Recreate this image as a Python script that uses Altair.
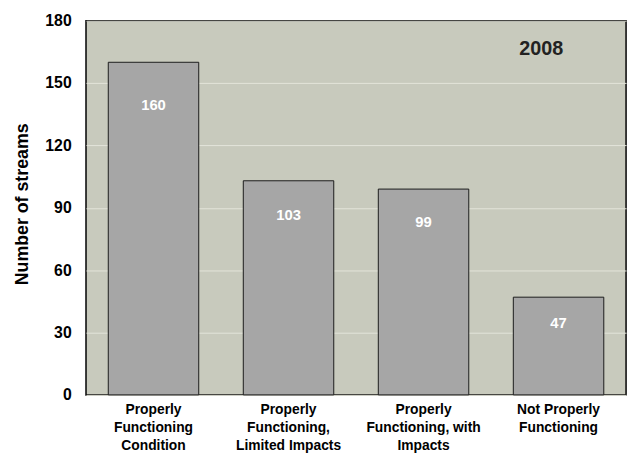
import altair as alt
import pandas as pd

categories = [
    "Properly|Functioning|Condition",
    "Properly|Functioning,|Limited Impacts",
    "Properly|Functioning, with|Impacts",
    "Not Properly|Functioning",
]
values = [160, 103, 99, 47]
y_ticks = [0, 30, 60, 90, 120, 150, 180]
year_label = "2008"

df = pd.DataFrame({"category": categories, "value": values})

FONT = "Liberation Sans"
W, H = 547, 379

x = alt.X(
    "category:N",
    sort=categories,
    scale=alt.Scale(paddingInner=0.33, paddingOuter=0.165),
    axis=alt.Axis(
        title=None,
        labelAngle=0,
        labelExpr="split(datum.label, '|')",
        labelFont=FONT,
        labelFontSize=14,
        labelFontWeight="bold",
        labelColor="#000000",
        labelLineHeight=18,
        labelPadding=8,
        labelLimit=200,
        ticks=False,
        domain=False,
    ),
)

y_scale = alt.Scale(domain=[0, 180], nice=False)

bars = alt.Chart(df).mark_bar(
    color="#A6A6A6", stroke="#1A1A1A", strokeWidth=1
).encode(
    x=x,
    y=alt.Y(
        "value:Q",
        scale=y_scale,
        axis=alt.Axis(
            values=y_ticks,
            title="Number of streams",
            titleFont=FONT,
            titleFontSize=18,
            titleFontWeight="bold",
            titleColor="#000000",
            titleAngle=-90,
            titleX=-64,
            titleY=H / 2 - 4,
            titleAlign="center",
            titleBaseline="middle",
            labelFont=FONT,
            labelFontSize=16,
            labelFontWeight="bold",
            labelColor="#000000",
            labelPadding=15,
            ticks=False,
            domain=False,
            grid=True,
            gridColor="#E4E5DA",
            gridWidth=1,
        ),
    ),
)

labels = alt.Chart(df).transform_calculate(
    lab_pos="datum.value * 0.928 - 8.9"
).mark_text(
    color="white", font=FONT, fontSize=15, fontWeight="bold", baseline="middle"
).encode(
    x=alt.X("category:N", sort=categories),
    y=alt.Y("lab_pos:Q", scale=y_scale),
    text=alt.Text("value:Q"),
)

year = alt.Chart(pd.DataFrame({"t": [year_label]})).mark_text(
    font=FONT, fontSize=20, fontWeight="bold", color="#222222", baseline="middle"
).encode(
    x=alt.value(461),
    y=alt.value(29),
    text="t:N",
)

chart = alt.layer(bars, labels, year).properties(
    width=W,
    height=H,
    autosize=alt.AutoSizeParams(type="none"),
    padding={"left": 79, "top": 10, "right": 5, "bottom": 56},
    background="white",
).configure_view(
    fill="#C8CABD", stroke="#000000", strokeWidth=1.5
)

chart.save("out.html", embed_options={"renderer": "svg", "actions": False})
